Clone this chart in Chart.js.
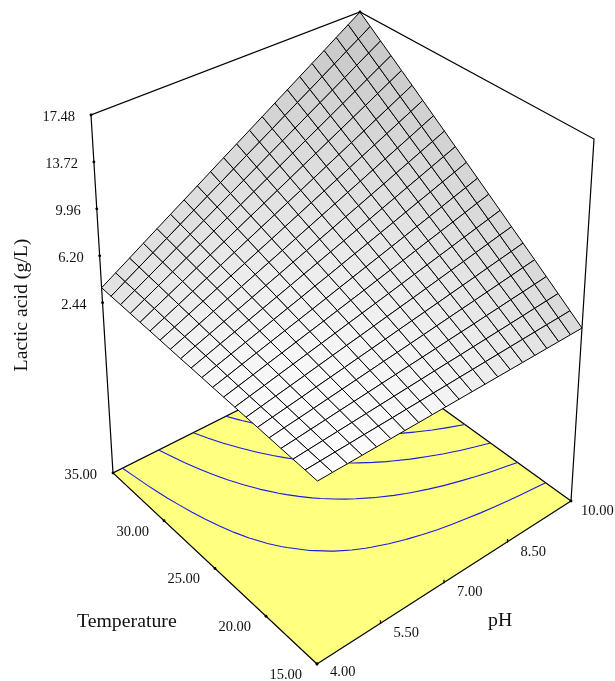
<!DOCTYPE html>
<html>
<head>
<meta charset="utf-8">
<script src="https://cdn.jsdelivr.net/npm/chart.js@4"></script>
<style>
  html, body { margin: 0; padding: 0; background: #fff; }
  canvas { display: block; }
</style>
</head>
<body>
<canvas id="surfaceChart" width="615" height="681"></canvas>
<script>
// Tick labels of the three axes
const phTicks = ['4.00', '5.50', '7.00', '8.50', '10.00'];
const tempTicks = ['35.00', '30.00', '25.00', '20.00', '15.00'];
const acidTicks = ['17.48', '13.72', '9.96', '6.20', '2.44'];

// Lactic acid: one row per temperature step (15 to 35),
// one column per pH step (4 to 10)
const lacticAcid = [
  [2.50,2.50,2.50,2.50,2.50,2.50,2.50,2.50,2.50,2.50,2.50,2.50,2.50,2.50,2.50,2.50,2.50,2.50,2.50,2.50,2.50],
  [2.56,2.59,2.63,2.66,2.70,2.73,2.76,2.80,2.83,2.87,2.90,2.94,2.97,3.01,3.04,3.08,3.11,3.15,3.18,3.21,3.25],
  [2.61,2.68,2.75,2.82,2.89,2.96,3.03,3.10,3.17,3.24,3.31,3.38,3.44,3.51,3.58,3.65,3.72,3.79,3.86,3.93,4.00],
  [2.67,2.77,2.88,2.98,3.09,3.19,3.29,3.40,3.50,3.61,3.71,3.81,3.92,4.02,4.12,4.23,4.33,4.44,4.54,4.64,4.75],
  [2.73,2.87,3.00,3.14,3.28,3.42,3.56,3.70,3.84,3.97,4.11,4.25,4.39,4.53,4.67,4.80,4.94,5.08,5.22,5.36,5.50],
  [2.79,2.96,3.13,3.30,3.48,3.65,3.82,4.00,4.17,4.34,4.52,4.69,4.86,5.03,5.21,5.38,5.55,5.73,5.90,6.07,6.25],
  [2.84,3.05,3.26,3.46,3.67,3.88,4.09,4.30,4.50,4.71,4.92,5.13,5.33,5.54,5.75,5.96,6.16,6.37,6.58,6.79,6.99],
  [2.90,3.14,3.38,3.63,3.87,4.11,4.35,4.59,4.84,5.08,5.32,5.56,5.81,6.05,6.29,6.53,6.77,7.02,7.26,7.50,7.74],
  [2.96,3.23,3.51,3.79,4.06,4.34,4.62,4.89,5.17,5.45,5.72,6.00,6.28,6.55,6.83,7.11,7.38,7.66,7.94,8.22,8.49],
  [3.01,3.32,3.64,3.95,4.26,4.57,4.88,5.19,5.50,5.82,6.13,6.44,6.75,7.06,7.37,7.68,7.99,8.31,8.62,8.93,9.24],
  [3.07,3.42,3.76,4.11,4.45,4.80,5.15,5.49,5.84,6.18,6.53,6.88,7.22,7.57,7.91,8.26,8.61,8.95,9.30,9.64,9.99],
  [3.13,3.51,3.89,4.27,4.65,5.03,5.41,5.79,6.17,6.55,6.93,7.31,7.69,8.07,8.46,8.84,9.22,9.60,9.98,10.36,10.74],
  [3.18,3.60,4.01,4.43,4.85,5.26,5.68,6.09,6.51,6.92,7.34,7.75,8.17,8.58,9.00,9.41,9.83,10.24,10.66,11.07,11.49],
  [3.24,3.69,4.14,4.59,5.04,5.49,5.94,6.39,6.84,7.29,7.74,8.19,8.64,9.09,9.54,9.99,10.44,10.89,11.34,11.79,12.24],
  [3.30,3.78,4.27,4.75,5.24,5.72,6.20,6.69,7.17,7.66,8.14,8.63,9.11,9.59,10.08,10.56,11.05,11.53,12.02,12.50,12.99],
  [3.36,3.87,4.39,4.91,5.43,5.95,6.47,6.99,7.51,8.03,8.55,9.06,9.58,10.10,10.62,11.14,11.66,12.18,12.70,13.22,13.74],
  [3.41,3.97,4.52,5.07,5.63,6.18,6.73,7.29,7.84,8.39,8.95,9.50,10.06,10.61,11.16,11.72,12.27,12.82,13.38,13.93,14.48],
  [3.47,4.06,4.65,5.23,5.82,6.41,7.00,7.59,8.17,8.76,9.35,9.94,10.53,11.12,11.70,12.29,12.88,13.47,14.06,14.65,15.23],
  [3.53,4.15,4.77,5.39,6.02,6.64,7.26,7.89,8.51,9.13,9.75,10.38,11.00,11.62,12.25,12.87,13.49,14.11,14.74,15.36,15.98],
  [3.58,4.24,4.90,5.55,6.21,6.87,7.53,8.18,8.84,9.50,10.16,10.81,11.47,12.13,12.79,13.44,14.10,14.76,15.42,16.07,16.73],
  [3.64,4.33,5.02,5.72,6.41,7.10,7.79,8.48,9.18,9.87,10.56,11.25,11.94,12.64,13.33,14.02,14.71,15.40,16.10,16.79,17.48]
];
const contourLevels = [4.12, 5.97, 7.8, 9.58];

const acidFloor = -11.2, acidTop = 17.48;
const gridSteps = 20;

// Screen corners of the box: floor and lid, each as [pH low/T low, pH high/T low, both high, pH low/T high]
const floorQuad = [[317, 664], [571, 501], [360, 349], [113, 473]];
const lidQuad = [[318, 281], [594, 139], [360, 12], [91, 115]];

// unit square to quad, for the perspective of the box
function quadMap(q) {
  const [p0, p1, p2, p3] = q;
  const dx1 = p1[0] - p2[0], dx2 = p3[0] - p2[0], sx = p0[0] - p1[0] + p2[0] - p3[0];
  const dy1 = p1[1] - p2[1], dy2 = p3[1] - p2[1], sy = p0[1] - p1[1] + p2[1] - p3[1];
  const den = dx1 * dy2 - dx2 * dy1;
  const g = (sx * dy2 - dx2 * sy) / den, h = (dx1 * sy - sx * dy1) / den;
  return (u, v) => {
    const w = g * u + h * v + 1;
    return {
      x: ((p1[0] - p0[0] + g * p1[0]) * u + (p3[0] - p0[0] + h * p3[0]) * v + p0[0]) / w,
      y: ((p1[1] - p0[1] + g * p1[1]) * u + (p3[1] - p0[1] + h * p3[1]) * v + p0[1]) / w
    };
  };
}
const floorAt = quadMap(floorQuad), lidAt = quadMap(lidQuad);

function project(u, v, acid) {
  const t = (acid - acidFloor) / (acidTop - acidFloor);
  const a = floorAt(u, v), b = lidAt(u, v);
  return { x: a.x + (b.x - a.x) * t, y: a.y + (b.y - a.y) * t };
}

function along(p, q, t) {
  return { x: p[0] + (q[0] - p[0]) * t, y: p[1] + (q[1] - p[1]) * t };
}

const datasets = [];
function addLine(points, color, width) {
  datasets.push({ data: points, showLine: true, borderColor: color, borderWidth: width, pointRadius: 0, fill: false, tension: 0 });
}
function addShape(points, fillColor, lineColor, width) {
  datasets.push({ data: points, showLine: true, backgroundColor: fillColor, borderColor: lineColor, borderWidth: width, pointRadius: 0, fill: 'shape', tension: 0 });
}
const xy = p => ({ x: p[0], y: p[1] });

// box edges behind the surface
addLine([floorQuad[3], lidQuad[3], lidQuad[2], lidQuad[1], floorQuad[1]].map(xy), '#000', 1.2);

// yellow floor
addShape([floorQuad[0], floorQuad[1], floorQuad[2], floorQuad[3], floorQuad[0]].map(xy), '#ffff80', '#000', 1.2);

// contours on the floor, taken from the crossings of the grid edges
contourLevels.forEach(level => {
  const pts = [];
  for (let j = 0; j <= gridSteps; j++) {
    for (let i = 0; i <= gridSteps; i++) {
      const z = lacticAcid[j][i];
      if (i < gridSteps) {
        const z2 = lacticAcid[j][i + 1];
        if (z < level && z2 >= level) pts.push({ u: (i + (level - z) / (z2 - z)) / gridSteps, v: j / gridSteps });
      }
      if (j < gridSteps) {
        const z2 = lacticAcid[j + 1][i];
        if (z < level && z2 >= level) pts.push({ u: i / gridSteps, v: (j + (level - z) / (z2 - z)) / gridSteps });
      }
    }
  }
  pts.sort((a, b) => a.u - b.u || b.v - a.v);
  addLine(pts.map(p => floorAt(p.u, p.v)), '#1c1ce0', 1.1);
});

// surface cells, shaded by how steep each one is
for (let j = gridSteps - 1; j >= 0; j--) {
  for (let i = 0; i < gridSteps; i++) {
    const z00 = lacticAcid[j][i], z10 = lacticAcid[j][i + 1], z11 = lacticAcid[j + 1][i + 1], z01 = lacticAcid[j + 1][i];
    const gu = (z10 + z11 - z00 - z01) / 2 * gridSteps, gv = (z01 + z11 - z00 - z10) / 2 * gridSteps;
    const loss = 0.151 * gu * gu + 0.164 * gv * gv;
    const gray = Math.round(253 - loss * (1 - 0.15 * (loss / 66) * (loss / 66)));
    addShape([
      project(i / gridSteps, j / gridSteps, z00),
      project((i + 1) / gridSteps, j / gridSteps, z10),
      project((i + 1) / gridSteps, (j + 1) / gridSteps, z11),
      project(i / gridSteps, (j + 1) / gridSteps, z01),
      project(i / gridSteps, j / gridSteps, z00)
    ], `rgb(${gray},${gray},${gray})`, '#000', 1);
  }
}

// tick dots, evenly spaced along their edges
const acidTickPts = acidTicks.map(label => {
  const t = (parseFloat(label) - acidFloor) / (acidTop - acidFloor);
  return along(floorQuad[3], lidQuad[3], t);
});
const tempTickPts = tempTicks.map((label, i) => along(floorQuad[3], floorQuad[0], i / (tempTicks.length - 1)));
const phTickPts = phTicks.map((label, i) => along(floorQuad[0], floorQuad[1], i / (phTicks.length - 1)));
datasets.push({
  data: [...acidTickPts, ...tempTickPts, phTickPts[0], phTickPts[4], xy(lidQuad[2])],
  showLine: false, pointRadius: 1.4, pointBackgroundColor: '#000', pointBorderWidth: 0
});
// pH ticks are short upright marks
datasets.push({
  data: phTickPts.slice(1, 4).map(p => ({ x: p.x, y: p.y - 1 })),
  showLine: false, pointStyle: 'line', pointRotation: 90, pointRadius: 1.8, pointBorderColor: '#000', pointBorderWidth: 1.3
});

// first dataset is painted last by Chart.js, so flip the order
datasets.forEach((d, i) => { d.order = -i; });

const serif = '"Liberation Serif", "Times New Roman", serif';
const axisText = {
  id: 'axisText',
  afterDraw(chart) {
    const ctx = chart.ctx;
    ctx.save();
    ctx.fillStyle = '#111';
    ctx.textBaseline = 'middle';
    ctx.font = '14.5px ' + serif;
    ctx.textAlign = 'right';
    acidTicks.forEach((t, i) => ctx.fillText(t, acidTickPts[i].x - 16, acidTickPts[i].y + 2));
    tempTicks.forEach((t, i) => {
      const p = tempTickPts[i];
      if (i === 0) ctx.fillText(t, p.x - 16, p.y + 2);
      else ctx.fillText(t, p.x - 15, p.y + 11);
    });
    ctx.textAlign = 'left';
    phTicks.forEach((t, i) => ctx.fillText(t, phTickPts[i].x + (i === 4 ? 10 : 13), phTickPts[i].y + (i === 0 ? 8 : 10)));
    ctx.font = '19.8px ' + serif;
    ctx.fillText('Temperature', 77, 622);
    ctx.fillText('pH', 488, 621);
    ctx.translate(22, 305);
    ctx.rotate(-Math.PI / 2);
    ctx.textAlign = 'center';
    ctx.fillText('Lactic acid (g/L)', 0, 0);
    ctx.restore();
  }
};

new Chart(document.getElementById('surfaceChart').getContext('2d'), {
  type: 'scatter',
  data: { datasets },
  plugins: [axisText],
  options: {
    responsive: false,
    animation: false,
    layout: { padding: 0, autoPadding: false },
    scales: {
      x: { type: 'linear', min: 0, max: 615, display: false },
      y: { type: 'linear', min: 0, max: 681, reverse: true, display: false }
    },
    plugins: { legend: { display: false }, tooltip: { enabled: false }, title: { display: false } }
  }
});
</script>
</body>
</html>
